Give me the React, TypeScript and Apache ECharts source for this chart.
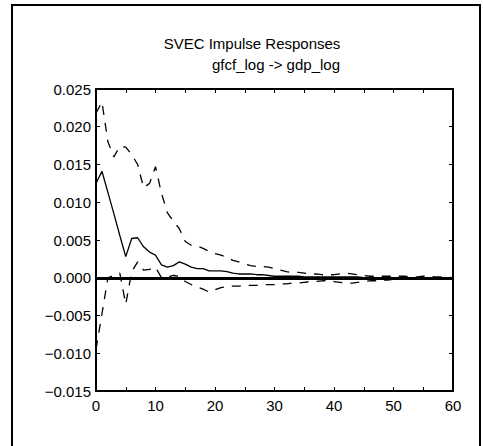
import React, { useEffect, useRef } from "react";
import * as echarts from "echarts";

const titleText = "SVEC Impulse Responses";
const subtitleText = "gfcf_log -> gdp_log";

const pointEstimate = [
  0.0125, 0.0141, 0.0113, 0.0085, 0.0056, 0.0028, 0.0052, 0.0053, 0.0041, 0.0034,
  0.0030, 0.0017, 0.0014, 0.0016, 0.0021, 0.0018, 0.0014, 0.0012, 0.0012, 0.0009,
  0.0009, 0.0009, 0.0008, 0.0006, 0.0005, 0.0005, 0.0005, 0.0004, 0.0004, 0.0003,
  0.0002, 0.0002, 0.0002, 0.0002, 0.0002, 0.0001, 0.0001, 0.0001, 0.0001, 0.0001,
  0.0001, 0.0001, 0.0001, 0.0001, 0.0001, 0.0000, 0.0000, 0.0000, 0.0000, 0.0000,
  0.0000, 0.0000, 0.0000, -0.0001, 0.0000, -0.0001, 0.0000, -0.0001, -0.0002, -0.0001,
  -0.0002,
];

const upperBand = [
  0.0218, 0.0233, 0.0180, 0.0160, 0.0174, 0.0173, 0.0163, 0.0150, 0.0119, 0.0125,
  0.0147, 0.0112, 0.0086, 0.0075, 0.0065, 0.0048, 0.0043, 0.0042, 0.0039, 0.0035,
  0.0032, 0.0030, 0.0027, 0.0023, 0.0021, 0.0018, 0.0016, 0.0015, 0.0015, 0.0014,
  0.0012, 0.0010, 0.0008, 0.0007, 0.0007, 0.0006, 0.0005, 0.0005, 0.0004, 0.0004,
  0.0004, 0.0005, 0.0006, 0.0005, 0.0004, 0.0003, 0.0002, 0.0002, 0.0002, 0.0002,
  0.0002, 0.0002, 0.0002, 0.0001, 0.0001, 0.0002, 0.0002, 0.0001, 0.0001, 0.0001,
  0.0000,
];

const lowerBand = [
  -0.0095, -0.0048, 0.0000, 0.0003, 0.0006, -0.0035, 0.0008, 0.0021, 0.0010, 0.0011,
  0.0014, 0.0000, 0.0001, 0.0003, 0.0002, -0.0005, -0.0009, -0.0012, -0.0015, -0.0019,
  -0.0016, -0.0013, -0.0012, -0.0011, -0.0011, -0.0010, -0.0010, -0.0010, -0.0009, -0.0009,
  -0.0009, -0.0008, -0.0008, -0.0007, -0.0007, -0.0006, -0.0005, -0.0005, -0.0004, -0.0004,
  -0.0005, -0.0006, -0.0007, -0.0007, -0.0006, -0.0005, -0.0004, -0.0004, -0.0003, -0.0003,
  -0.0002, -0.0002, -0.0002, -0.0002, -0.0001, -0.0001, -0.0001, -0.0002, -0.0002, -0.0002,
  -0.0003,
];

const xMin = 0;
const xMax = 60;
const xTickStep = 5;
const xLabelStep = 10;
const yMin = -0.015;
const yMax = 0.025;
const yStep = 0.005;

const FONT = "Liberation Sans, Arial, Helvetica, sans-serif";

function toPairs(values: number[]) {
  return values.map((v, i) => [i, v]);
}

function fmtY(v: number) {
  if (Math.abs(v) < 1e-9) return "0.000";
  return (v < 0 ? "\u2212" : "") + Math.abs(v).toFixed(3);
}

export default function App() {
  const ref = useRef<HTMLDivElement>(null);

  useEffect(() => {
    if (!ref.current) return;
    const chart = echarts.init(ref.current, null, { renderer: "svg" });
    const axisLine = { show: true, onZero: false, lineStyle: { color: "#000", width: 2 } };
    const axisTick = { show: true, inside: true, length: 4, lineStyle: { color: "#000", width: 1 } };
    chart.setOption({
      animation: false,
      backgroundColor: "#fff",
      textStyle: { fontFamily: FONT },
      grid: { left: 96, top: 89, right: 30, bottom: 55, containLabel: false },
      xAxis: [
        {
          type: "value",
          min: xMin,
          max: xMax,
          interval: xTickStep,
          position: "bottom",
          axisLine,
          axisTick,
          splitLine: { show: false },
          axisLabel: {
            show: true,
            margin: 7,
            color: "#000",
            fontSize: 15,
            fontFamily: FONT,
            formatter: (v: number) => (v % xLabelStep === 0 ? String(v) : ""),
          },
        },
        {
          type: "value",
          min: xMin,
          max: xMax,
          interval: xTickStep,
          position: "top",
          axisLine,
          axisTick,
          splitLine: { show: false },
          axisLabel: { show: false },
        },
      ],
      yAxis: [
        {
          type: "value",
          min: yMin,
          max: yMax,
          interval: yStep,
          position: "left",
          axisLine,
          axisTick,
          splitLine: { show: false },
          axisLabel: {
            show: true,
            margin: 5,
            color: "#000",
            fontSize: 15,
            fontFamily: FONT,
            formatter: fmtY,
          },
        },
        {
          type: "value",
          min: yMin,
          max: yMax,
          interval: yStep,
          position: "right",
          axisLine,
          axisTick,
          splitLine: { show: false },
          axisLabel: { show: false },
        },
      ],
      series: [
        {
          type: "line",
          data: toPairs(upperBand),
          showSymbol: false,
          symbol: "none",
          lineStyle: { color: "#000", width: 1.3, type: [9, 8] },
        },
        {
          type: "line",
          data: toPairs(lowerBand),
          showSymbol: false,
          symbol: "none",
          lineStyle: { color: "#000", width: 1.3, type: [9, 8] },
        },
        {
          type: "line",
          data: toPairs(pointEstimate),
          showSymbol: false,
          symbol: "none",
          lineStyle: { color: "#000", width: 1.3, type: "solid" },
          markLine: {
            silent: true,
            symbol: ["none", "none"],
            label: { show: false },
            lineStyle: { color: "#000", width: 3, type: "solid" },
            data: [{ yAxis: 0 }],
          },
        },
      ],
      graphic: [
        {
          type: "rect",
          shape: { x: 12, y: 5, width: 468, height: 450 },
          style: { fill: "none", stroke: "#000", lineWidth: 2 },
          silent: true,
        },
        {
          type: "text",
          x: 252,
          y: 43,
          style: {
            text: titleText,
            fill: "#000",
            font: `15px ${FONT}`,
            textAlign: "center",
            textVerticalAlign: "middle",
          },
        },
        {
          type: "text",
          x: 340,
          y: 64,
          style: {
            text: subtitleText,
            fill: "#000",
            font: `15px ${FONT}`,
            textAlign: "right",
            textVerticalAlign: "middle",
          },
        },
      ],
    });
    return () => chart.dispose();
  }, []);

  return (
    <div
      ref={ref}
      style={{ position: "fixed", left: 0, top: 0, width: 483, height: 446, background: "#fff" }}
    />
  );
}
